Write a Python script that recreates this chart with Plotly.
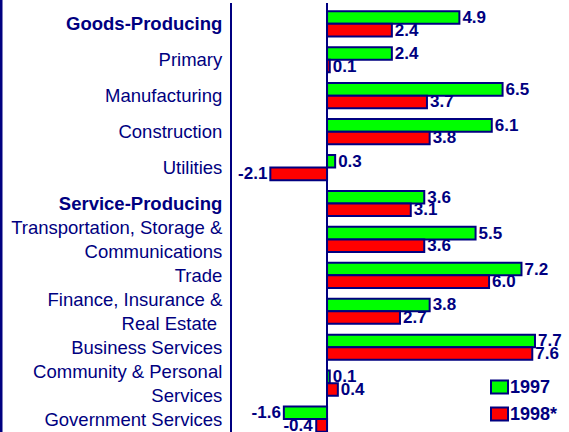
import plotly.graph_objects as go

categories = [
    "<b>Goods-Producing</b>",
    "Primary",
    "Manufacturing",
    "Construction",
    "Utilities",
    "<b>Service-Producing</b>",
    "Transportation, Storage &<br>Communications",
    "Trade",
    "Finance, Insurance &<br>Real Estate\u00a0",
    "Business Services",
    "Community & Personal<br>Services",
    "Government Services",
]
series_names = ["1997", "1998*"]
values_1997 = [4.9, 2.4, 6.5, 6.1, 0.3, 3.6, 5.5, 7.2, 3.8, 7.7, 0.1, -1.6]
values_1998 = [2.4, 0.1, 3.7, 3.8, -2.1, 3.1, 3.6, 6.0, 2.7, 7.6, 0.4, -0.4]

NAVY = "#000080"
colors = ["#00FF00", "#FF0000"]
FONT = "Arial, Liberation Sans, sans-serif"

W, H = 569, 432
L, R, T, B = 232, 0, 3, 0
PW, PH = W - L - R, H - T - B


def px_x(p):
    return (p - L) / PW


def px_y(p):
    return (H - B - p) / PH


fig = go.Figure()
for name, vals, col in zip(series_names, [values_1997, values_1998], colors):
    fig.add_trace(go.Bar(
        y=categories, x=vals, name=name, orientation="h",
        marker=dict(color=col, line=dict(color=NAVY, width=2)),
        text=[f"{v:.1f}" for v in vals],
        textposition="outside",
        constraintext="none",
        cliponaxis=False,
        showlegend=False,
        hoverinfo="skip",
        outsidetextfont=dict(family=FONT, size=17, color=NAVY, weight="bold"),
    ))

shapes = [dict(type="line", xref="paper", yref="paper",
               x0=px_x(1), x1=px_x(1), y0=0, y1=px_y(0),
               line=dict(color=NAVY, width=3))]
annotations = []
legend_rows = [387, 414]
for name, col, cy in zip(series_names, colors, legend_rows):
    shapes.append(dict(type="rect", xref="paper", yref="paper",
                       x0=px_x(491), x1=px_x(508), y0=px_y(cy + 6.5), y1=px_y(cy - 6.5),
                       fillcolor=col, line=dict(color=NAVY, width=2)))
    annotations.append(dict(xref="paper", yref="paper", x=px_x(508), y=px_y(cy),
                            xanchor="left", yanchor="middle", showarrow=False,
                            text=f"<b>{name}</b>",
                            font=dict(family=FONT, size=18, color=NAVY)))

fig.update_layout(
    width=W, height=H,
    margin=dict(l=L, r=R, t=T, b=B, autoexpand=False),
    paper_bgcolor="white", plot_bgcolor="white",
    barmode="group", bargap=0.3, bargroupgap=0,
    font=dict(family=FONT, color=NAVY),
    showlegend=False,
    xaxis=dict(range=[-3.52, 8.96], showgrid=False, showticklabels=False,
               zeroline=True, zerolinecolor=NAVY, zerolinewidth=2,
               showline=False, ticks=""),
    yaxis=dict(range=[11.36, -0.58], showgrid=False, showline=True,
               linecolor=NAVY, linewidth=2, ticks="", ticklabelstandoff=4,
               tickfont=dict(family=FONT, size=18.5, color=NAVY)),
    shapes=shapes,
    annotations=annotations,
)

fig.write_html("out.html", config={"displayModeBar": False},
               post_script="document.body.style.margin='0px';")
